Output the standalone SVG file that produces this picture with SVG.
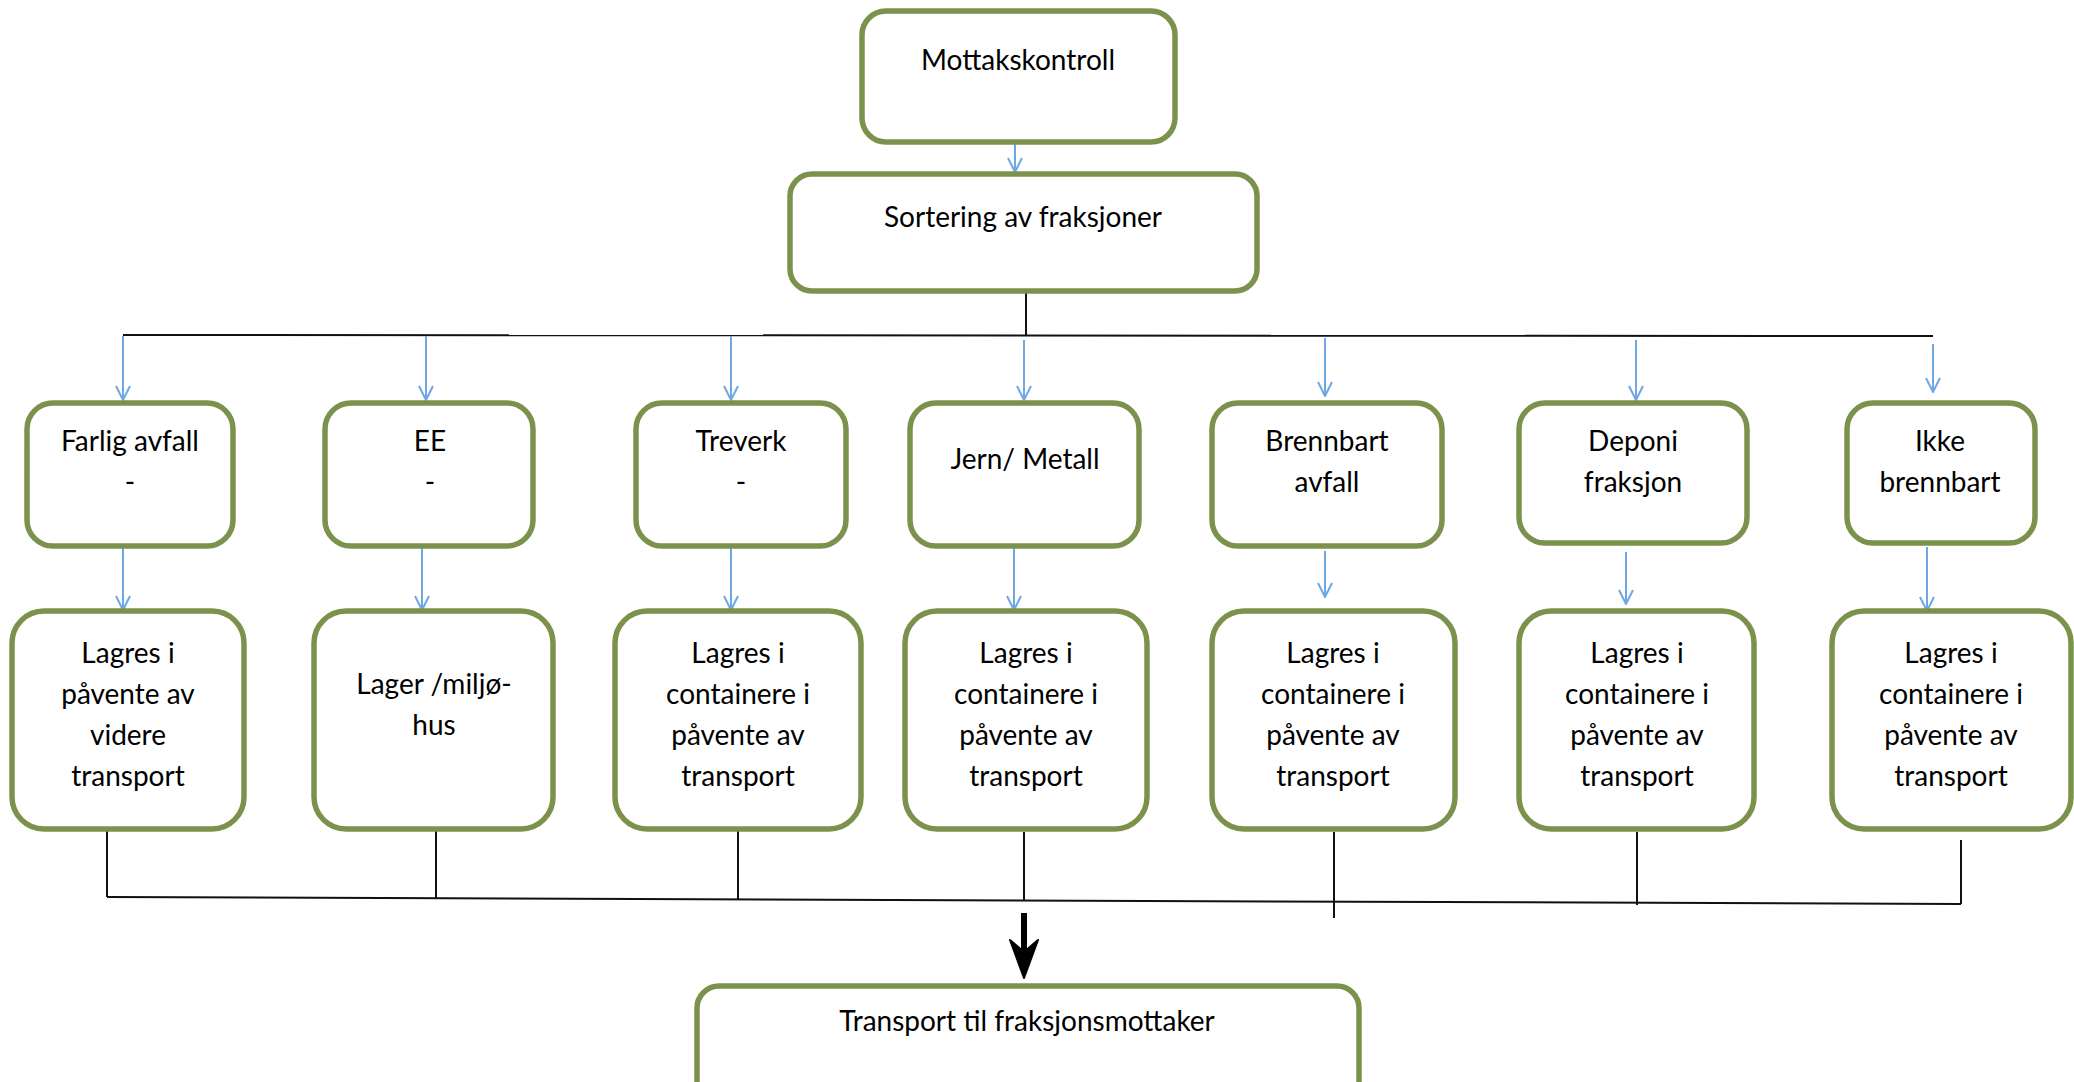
<svg xmlns="http://www.w3.org/2000/svg" width="2074" height="1082" viewBox="0 0 2074 1082">
<defs>
<style>
.box{fill:#ffffff;stroke:#7b924c;stroke-width:5.5}
.t{font-family:Lato,"Open Sans","Liberation Sans",sans-serif;font-size:28px;fill:#000000;text-anchor:middle}
.blue{stroke:#6fa6e6;stroke-width:2;fill:none}
.blk{stroke:#111111;stroke-width:2;fill:none}
</style>
<marker id="va" viewBox="0 0 16 16" refX="15" refY="8" markerWidth="16" markerHeight="16" markerUnits="userSpaceOnUse" orient="auto">
<path d="M1,1 L15,8 L1,15" fill="none" stroke="#6fa6e6" stroke-width="2"/>
</marker>
</defs>
<rect width="2074" height="1082" fill="#ffffff"/>
<g id="connectors">
<line class="blue" x1="1015" y1="142" x2="1015" y2="172" marker-end="url(#va)"/>
<line class="blk" x1="1026" y1="291" x2="1026" y2="336"/>
<line class="blk" x1="123" y1="335" x2="1933" y2="336"/>
<line class="blue" x1="123" y1="336" x2="123" y2="400" marker-end="url(#va)"/>
<line class="blue" x1="426" y1="336" x2="426" y2="400" marker-end="url(#va)"/>
<line class="blue" x1="731" y1="336" x2="731" y2="400" marker-end="url(#va)"/>
<line class="blue" x1="1024" y1="340" x2="1024" y2="400" marker-end="url(#va)"/>
<line class="blue" x1="1325" y1="338" x2="1325" y2="396" marker-end="url(#va)"/>
<line class="blue" x1="1636" y1="340" x2="1636" y2="400" marker-end="url(#va)"/>
<line class="blue" x1="1933" y1="344" x2="1933" y2="392" marker-end="url(#va)"/>
<line class="blue" x1="123" y1="547" x2="123" y2="610" marker-end="url(#va)"/>
<line class="blue" x1="422" y1="547" x2="422" y2="610" marker-end="url(#va)"/>
<line class="blue" x1="731" y1="547" x2="731" y2="610" marker-end="url(#va)"/>
<line class="blue" x1="1014" y1="547" x2="1014" y2="610" marker-end="url(#va)"/>
<line class="blue" x1="1325" y1="551" x2="1325" y2="597" marker-end="url(#va)"/>
<line class="blue" x1="1626" y1="552" x2="1626" y2="604" marker-end="url(#va)"/>
<line class="blue" x1="1927" y1="547" x2="1927" y2="611" marker-end="url(#va)"/>
<line class="blk" x1="107" y1="830" x2="107" y2="897"/>
<line class="blk" x1="436" y1="830" x2="436" y2="899"/>
<line class="blk" x1="738" y1="830" x2="738" y2="899"/>
<line class="blk" x1="1024" y1="832" x2="1024" y2="901"/>
<line class="blk" x1="1334" y1="832" x2="1334" y2="918"/>
<line class="blk" x1="1637" y1="832" x2="1637" y2="905"/>
<line class="blk" x1="1961" y1="840" x2="1961" y2="904"/>
<line class="blk" x1="107" y1="897" x2="1961" y2="904" stroke-width="2.5"/>
<line x1="1024" y1="913" x2="1024" y2="955" stroke="#000" stroke-width="6"/>
<path d="M1010,940 L1024,978 L1038,940 L1024,952 Z" fill="#000" stroke="#000" stroke-width="2" stroke-linejoin="round"/>
</g>
<g id="n-mottak">
<rect class="box" x="862" y="11" width="313" height="131" rx="24"/>
<text class="t" x="1018" y="70">Mottakskontroll</text>
</g>
<g id="n-sortering">
<rect class="box" x="790" y="174" width="467" height="117" rx="22"/>
<text class="t" x="1023" y="227">Sortering av fraksjoner</text>
</g>
<g id="n-farlig">
<rect class="box" x="27" y="403" width="206" height="143" rx="26"/>
<text class="t" x="130" y="451">Farlig avfall</text>
<text class="t" x="130" y="492">-</text>
</g>
<g id="n-ee">
<rect class="box" x="325" y="403" width="208" height="143" rx="26"/>
<text class="t" x="430" y="451">EE</text>
<text class="t" x="430" y="492">-</text>
</g>
<g id="n-treverk">
<rect class="box" x="636" y="403" width="210" height="143" rx="26"/>
<text class="t" x="741" y="451">Treverk</text>
<text class="t" x="741" y="492">-</text>
</g>
<g id="n-jern">
<rect class="box" x="910" y="403" width="229" height="143" rx="26"/>
<text class="t" x="1025" y="469">Jern/ Metall</text>
</g>
<g id="n-brennbart">
<rect class="box" x="1212" y="403" width="230" height="143" rx="26"/>
<text class="t" x="1327" y="451">Brennbart</text>
<text class="t" x="1327" y="492">avfall</text>
</g>
<g id="n-deponi">
<rect class="box" x="1519" y="403" width="228" height="140" rx="26"/>
<text class="t" x="1633" y="451">Deponi</text>
<text class="t" x="1633" y="492">fraksjon</text>
</g>
<g id="n-ikke">
<rect class="box" x="1847" y="403" width="188" height="140" rx="26"/>
<text class="t" x="1940" y="451">Ikke</text>
<text class="t" x="1940" y="492">brennbart</text>
</g>
<g id="n-lager1">
<rect class="box" x="12" y="611" width="232" height="218" rx="32"/>
<text class="t" x="128" y="663">Lagres i</text>
<text class="t" x="128" y="704">påvente av</text>
<text class="t" x="128" y="745">videre</text>
<text class="t" x="128" y="786">transport</text>
</g>
<g id="n-lager2">
<rect class="box" x="314" y="611" width="239" height="218" rx="32"/>
<text class="t" x="434" y="694">Lager /miljø-</text>
<text class="t" x="434" y="735">hus</text>
</g>
<g id="n-lager3">
<rect class="box" x="615" y="611" width="246" height="218" rx="32"/>
<text class="t" x="738" y="663">Lagres i</text>
<text class="t" x="738" y="704">containere i</text>
<text class="t" x="738" y="745">påvente av</text>
<text class="t" x="738" y="786">transport</text>
</g>
<g id="n-lager4">
<rect class="box" x="905" y="611" width="242" height="218" rx="32"/>
<text class="t" x="1026" y="663">Lagres i</text>
<text class="t" x="1026" y="704">containere i</text>
<text class="t" x="1026" y="745">påvente av</text>
<text class="t" x="1026" y="786">transport</text>
</g>
<g id="n-lager5">
<rect class="box" x="1212" y="611" width="243" height="218" rx="32"/>
<text class="t" x="1333" y="663">Lagres i</text>
<text class="t" x="1333" y="704">containere i</text>
<text class="t" x="1333" y="745">påvente av</text>
<text class="t" x="1333" y="786">transport</text>
</g>
<g id="n-lager6">
<rect class="box" x="1519" y="611" width="235" height="218" rx="32"/>
<text class="t" x="1637" y="663">Lagres i</text>
<text class="t" x="1637" y="704">containere i</text>
<text class="t" x="1637" y="745">påvente av</text>
<text class="t" x="1637" y="786">transport</text>
</g>
<g id="n-lager7">
<rect class="box" x="1832" y="611" width="239" height="218" rx="32"/>
<text class="t" x="1951" y="663">Lagres i</text>
<text class="t" x="1951" y="704">containere i</text>
<text class="t" x="1951" y="745">påvente av</text>
<text class="t" x="1951" y="786">transport</text>
</g>
<g id="n-transport">
<rect class="box" x="697" y="986" width="662" height="120" rx="22"/>
<text class="t" x="1027" y="1031">Transport til fraksjonsmottaker</text>
</g>
</svg>
